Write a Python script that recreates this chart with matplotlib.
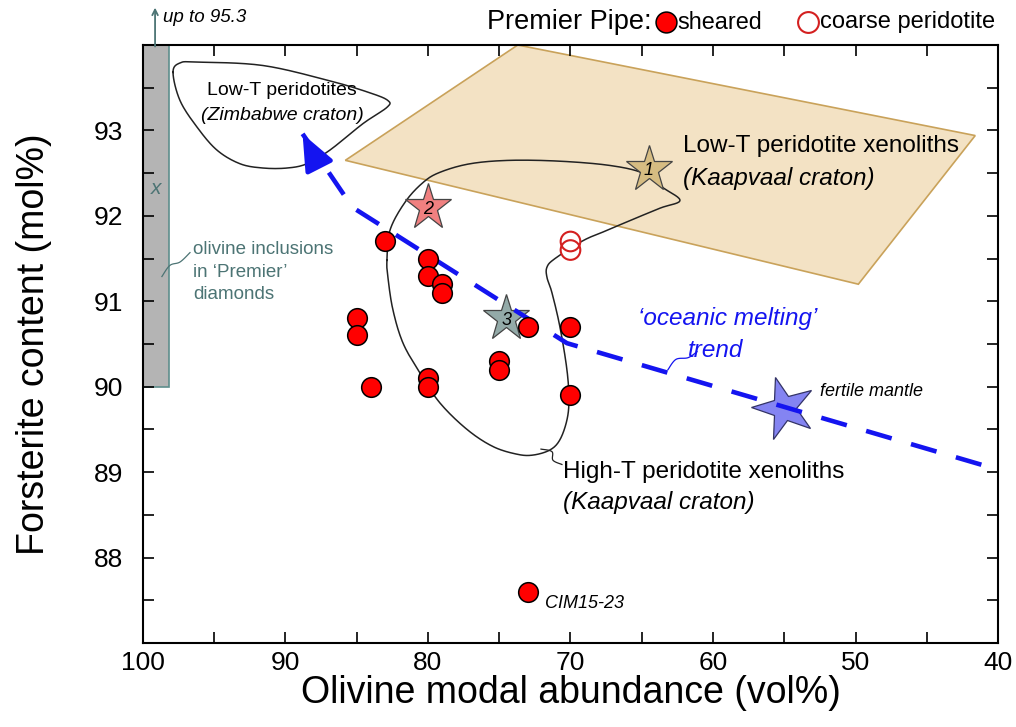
import numpy as np
import matplotlib
matplotlib.use("Agg")
import matplotlib.pyplot as plt
from matplotlib.markers import MarkerStyle
from matplotlib.transforms import Affine2D

plt.rcParams['font.family'] = ['Liberation Sans', 'DejaVu Sans']

# Premier Pipe samples (olivine vol%, Fo mol%)
sheared_x = [83, 80, 80, 79, 79, 85, 85, 84, 80, 80, 75, 75, 73, 70, 70, 73]
sheared_y = [91.7, 91.5, 91.3, 91.2, 91.1, 90.8, 90.6, 90.0, 90.1, 90.0, 90.3, 90.2, 90.7, 90.7, 89.9, 87.6]
coarse_x = [70, 70]
coarse_y = [91.7, 91.6]

# numbered reference stars
star_x = [64.5, 80.0, 74.5]
star_y = [92.55, 92.1, 90.8]
star_labels = ['1', '2', '3']
star_colors = ['#D6BC82', '#F08080', '#93AAA8']
fertile_x, fertile_y = 55.0, 89.75

# 'oceanic melting' trend
trend_x = [88.8, 85.3, 70.25, 40.0]
trend_y = [92.96, 92.10, 90.51, 89.03]

# Low-T Kaapvaal field (polygon)
lowT_kaap_x = [85.8, 73.7, 41.6, 49.8]
lowT_kaap_y = [92.65, 94.0, 92.94, 91.2]

# Low-T Zimbabwe outline
zim_x = [97.89, 97.40, 96.21, 91.58, 86.88, 84.07, 82.81, 82.88, 84.56, 86.88,
         88.49, 89.89, 91.58, 93.19, 94.81, 96.21, 97.40]
zim_y = [93.68, 93.79, 93.80, 93.76, 93.58, 93.44, 93.35, 93.27, 93.08, 92.77,
         92.61, 92.56, 92.56, 92.61, 92.77, 93.04, 93.35]

# High-T Kaapvaal outline
hit_x = [82.88, 82.67, 81.61, 80.35, 79.16, 77.05, 74.25, 70.74, 67.23, 64.91,
         63.51, 62.32, 63.72, 66.04, 67.44, 69.12, 71.09, 71.65, 71.65, 71.30,
         70.74, 70.25, 70.11, 70.25, 70.74, 71.44, 72.63, 73.75, 75.44, 77.26,
         79.16, 80.56, 81.75, 82.46, 82.81]
hit_y = [91.48, 91.83, 92.16, 92.39, 92.51, 92.61, 92.65, 92.64, 92.59, 92.50,
         92.33, 92.18, 92.09, 91.93, 91.83, 91.71, 91.50, 91.40, 91.28, 91.10,
         90.70, 90.20, 89.85, 89.61, 89.38, 89.26, 89.20, 89.21, 89.30, 89.50,
         89.81, 90.16, 90.51, 90.90, 91.28]

teal = '#4C7474'
blue = '#1414F0'


def spline(xs, ys, closed=True, n=16):
    # catmull-rom through the traced outline points
    p = np.column_stack([xs, ys])
    N = len(p)
    out = []
    rng = range(N) if closed else range(N - 1)
    for i in rng:
        if closed:
            p0, p1, p2, p3 = p[i - 1], p[i], p[(i + 1) % N], p[(i + 2) % N]
        else:
            p0 = p[max(i - 1, 0)]
            p1, p2 = p[i], p[i + 1]
            p3 = p[min(i + 2, N - 1)]
        t = np.linspace(0, 1, n, endpoint=False)[:, None]
        out.append(0.5 * (2 * p1 + (-p0 + p2) * t + (2 * p0 - 5 * p1 + 4 * p2 - p3) * t ** 2
                          + (-p0 + 3 * p1 - 3 * p2 + p3) * t ** 3))
    out.append(p[0:1] if closed else p[-1:])
    pts = np.vstack(out)
    return pts[:, 0], pts[:, 1]


fig = plt.figure(figsize=(10.16, 7.27), dpi=100)
ax = fig.add_axes([0.1407, 0.1155, 0.8416, 0.8226])
ax.set_xlim(100, 40)
ax.set_ylim(87, 94)

# olivine inclusions in diamonds bar
ax.fill([100, 98.2, 98.2, 100], [90, 90, 94, 94], facecolor='#B4B4B4',
        edgecolor='#5E8E8C', lw=1.2, zorder=1)
ax.annotate('', xy=(99.15, 94.47), xytext=(99.15, 93.95),
            arrowprops=dict(arrowstyle='->', color=teal, lw=1.3), annotation_clip=False)
ax.text(98.6, 94.32, 'up to 95.3', style='italic', fontsize=13.5, va='center', ha='left')
ax.text(99.1, 92.32, 'x', style='italic', color=teal, fontsize=15, ha='center', va='center')
lx, ly = spline([98.67, 98.11, 97.40, 96.70], [91.29, 91.42, 91.46, 91.57], closed=False)
ax.plot(lx, ly, color=teal, lw=0.9, zorder=2)
ax.text(96.5, 91.70, 'olivine inclusions\nin \u2018Premier\u2019\ndiamonds', color=teal,
        fontsize=13.5, ha='left', va='top', linespacing=1.4)

# Low-T Kaapvaal field
ax.fill(lowT_kaap_x, lowT_kaap_y, facecolor='#F3E2C4', edgecolor='#C9A25A', lw=1.2, zorder=1)

# outlines
zx, zy = spline(zim_x, zim_y)
ax.plot(zx, zy, color='#222222', lw=1.1, zorder=2)
hx, hy = spline(hit_x, hit_y)
ax.plot(hx, hy, color='#222222', lw=1.1, zorder=2)
lx, ly = spline([72.07, 71.30, 71.23, 70.60], [89.27, 89.24, 89.14, 89.09], closed=False)
ax.plot(lx, ly, color='#222222', lw=0.9, zorder=2)

ax.text(90.25, 93.47, 'Low-T peridotites', fontsize=14, ha='center', va='center')
ax.text(90.25, 93.18, '(Zimbabwe craton)', fontsize=14, style='italic', ha='center', va='center')
ax.text(62.1, 92.82, 'Low-T peridotite xenoliths', fontsize=17.5, ha='left', va='center')
ax.text(62.1, 92.44, '(Kaapvaal craton)', fontsize=17.5, style='italic', ha='left', va='center')
ax.text(70.5, 89.0, 'High-T peridotite xenoliths', fontsize=17.5, ha='left', va='center')
ax.text(70.5, 88.64, '(Kaapvaal craton)', fontsize=17.5, style='italic', ha='left', va='center')

# stars
for sx, sy, lab, c in zip(star_x, star_y, star_labels, star_colors):
    ax.plot(sx, sy, marker='*', ms=35, mfc=c, mec='#444444', mew=0.9, zorder=4)
    ax.text(sx, sy - 0.02, lab, fontsize=13, style='italic', ha='center', va='center', zorder=7)
ax.plot(fertile_x, fertile_y, marker=MarkerStyle('*', transform=Affine2D().rotate_deg(16)),
        ms=47, mfc='#8484F2', mec='#333366', mew=0.9, zorder=4)
ax.text(52.5, 89.95, 'fertile mantle', fontsize=13, style='italic', ha='left', va='center')

# trend line with arrow
ax.plot(trend_x, trend_y, color=blue, lw=3.3, dashes=(5.8, 4.4), zorder=5)
ax.annotate('', xy=(trend_x[0], trend_y[0]), xytext=(87.7, 92.60),
            arrowprops=dict(arrowstyle='-|>,head_length=0.55,head_width=0.23',
                            mutation_scale=40, color=blue, lw=3.3, shrinkA=0, shrinkB=0),
            zorder=5)
ax.text(59.0, 90.80, '\u2018oceanic melting\u2019', color=blue, fontsize=17.5, style='italic',
        ha='center', va='center')
ax.text(59.8, 90.42, 'trend', color=blue, fontsize=17.5, style='italic', ha='center', va='center')
lx, ly = spline([63.16, 62.60, 61.75, 61.12], [90.20, 90.32, 90.34, 90.41], closed=False)
ax.plot(lx, ly, color=blue, lw=0.9, zorder=2)

# samples
ax.scatter(sheared_x, sheared_y, s=200, c='#FF0000', edgecolors='black', linewidths=1.1, zorder=6)
ax.scatter(coarse_x, coarse_y, s=200, c='white', edgecolors='none', zorder=6)
ax.scatter(coarse_x, coarse_y, s=200, facecolors='none', edgecolors='#D42020', linewidths=1.5, zorder=6)
ax.text(71.8, 87.46, 'CIM15-23', fontsize=13, style='italic', ha='left', va='center')

# header legend
fig.text(0.479, 0.9697, 'Premier Pipe:', fontsize=19.5, ha='left', va='center')
ax.plot([0.6555], [0.9697], 'o', ms=15, mfc='#FF0000', mec='black', mew=1.1,
        transform=fig.transFigure, clip_on=False)
fig.text(0.6663, 0.9697, 'sheared', fontsize=16.8, ha='left', va='center')
ax.plot([0.7953], [0.9697], 'o', ms=15, mfc='white', mec='#D42020', mew=1.5,
        transform=fig.transFigure, clip_on=False)
fig.text(0.8071, 0.9697, 'coarse peridotite', fontsize=17, ha='left', va='center')

# axes styling
ax.set_xticks([100, 90, 80, 70, 60, 50, 40])
ax.set_xticks(np.arange(95, 40, -10), minor=True)
ax.set_yticks([88, 89, 90, 91, 92, 93])
ax.set_yticks(np.arange(87.5, 94, 1), minor=True)
ax.tick_params(which='both', direction='in', top=True, right=True, length=8, width=1.2)
ax.tick_params(axis='x', which='major', labelsize=19, pad=6)
ax.tick_params(axis='y', which='major', labelsize=19, pad=14)
for sp in ax.spines.values():
    sp.set_linewidth(1.5)
ax.set_xlabel('Olivine modal abundance (vol%)', fontsize=27, labelpad=0)
ax.set_ylabel('Forsterite content (mol%)', fontsize=27, labelpad=30)

fig.savefig('out.png', dpi=100)
